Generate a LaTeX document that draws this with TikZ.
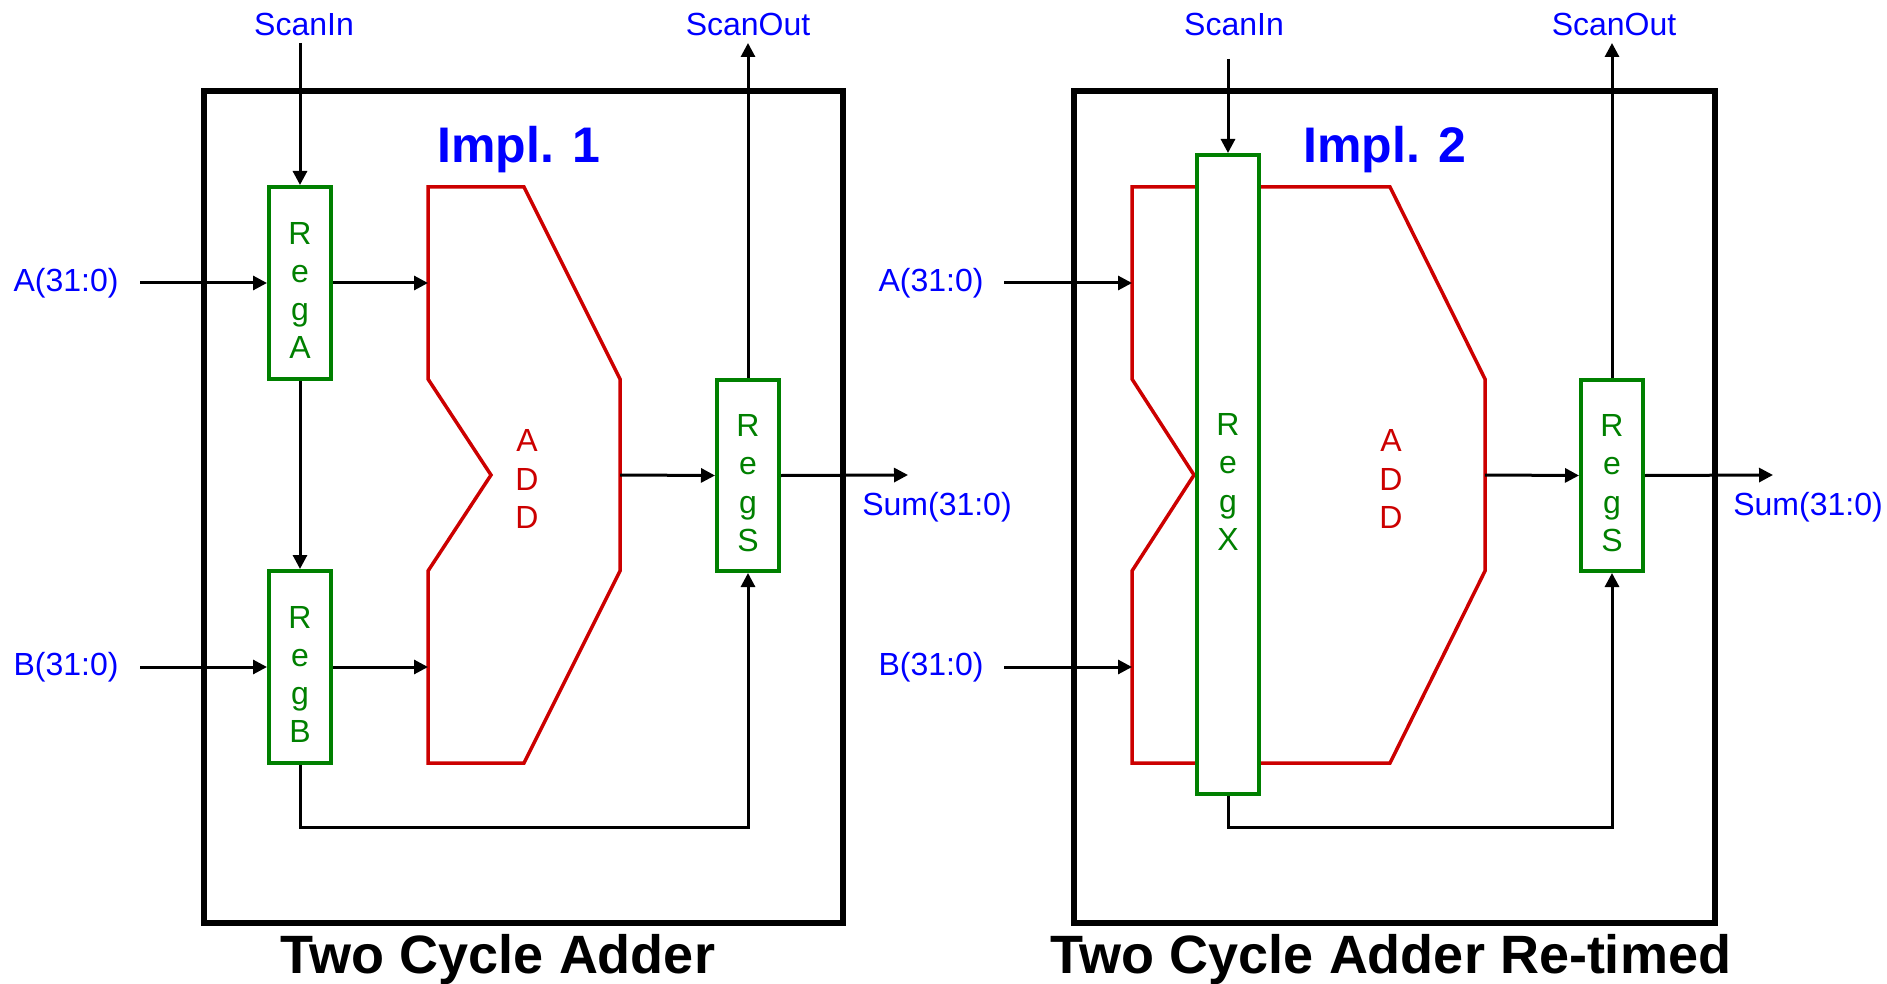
\documentclass[tikz,border=0pt]{standalone}
\usepackage{fontspec}
\setmainfont{Liberation Sans}
\usetikzlibrary{arrows.meta}
\definecolor{myblue}{RGB}{0,0,255}
\definecolor{mygreen}{RGB}{0,128,0}
\definecolor{myred}{RGB}{204,0,0}
\begin{document}
\begin{tikzpicture}[x=1pt,y=-1pt,
  reg/.style={rectangle, draw=mygreen, line width=4pt, fill=white, minimum width=62pt, inner sep=0pt},
  regtxt/.style={text=mygreen, font=\fontsize{32}{38.3}\selectfont, align=center, inner sep=0pt},
  addtxt/.style={text=myred, font=\fontsize{32}{38.3}\selectfont, align=center, inner sep=0pt},
  lbl/.style={text=myblue, font=\fontsize{32}{38}\selectfont, inner sep=0pt, anchor=base},
  ttl/.style={text=black, font=\fontsize{54}{62}\selectfont\bfseries, inner sep=0pt, anchor=base},
  impl/.style={text=myblue, font=\fontsize{50}{60}\selectfont\bfseries, inner sep=0pt, anchor=base},
  frame/.style={draw=black, line width=6pt},
  adder/.style={draw=myred, line width=3.5pt, line join=miter},
  conn/.style={draw=black, line width=3pt, -{Triangle[length=14pt,width=14pt]}},
]
\path[use as bounding box] (0,0) rectangle (1887,984);

% ================= Left: Two Cycle Adder =================
\draw[frame] (204,91) rectangle (843,923);
\node[impl] (impl1) at (519,163) {Impl. 1};
\node[ttl] (t1) at (498,973) {Two Cycle Adder};

% adder shape
\draw[adder] (428,187) -- (524,187) -- (620,379) -- (620,571) -- (524,763)
  -- (428,763) -- (428,571) -- (491,475) -- (428,379) -- cycle;
\coordinate (adLa) at (428,283);
\coordinate (adLb) at (428,667);
\coordinate (adLo) at (620,475);
\node[addtxt] (addL) at (527,479) {A\\D\\D};

% registers
\node[reg, minimum height=192pt] (rA) at (300,283) {};
\node[reg, minimum height=192pt] (rB) at (300,667) {};
\node[reg, minimum height=191pt] (rS) at (748,475.5) {};
\node[regtxt] (rAt) at (300,290.5) {R\\e\\g\\A};
\node[regtxt] (rBt) at (300,674.5) {R\\e\\g\\B};
\node[regtxt] (rSt) at (748,483) {R\\e\\g\\S};

% labels
\node[lbl] (sinLt) at (304,36) {ScanIn};
\node[lbl] (soLt) at (748,36) {ScanOut};
\node[lbl] (aLt) at (66,292) {A(31:0)};
\node[lbl] (bLt) at (66,675) {B(31:0)};
\node[lbl] (sumLt) at (937,515) {Sum(31:0)};

\coordinate (sinL) at (300,43);
\coordinate (soL) at (748,43);
\coordinate (aL) at (140,283);
\coordinate (bL) at (140,667);
\coordinate (sumL) at (908,475);
\coordinate (fbL) at (520,827);

% connectors
\draw[conn] (sinL) -- (rA.north);
\draw[conn] (rS.north) -- (soL);
\draw[conn] (aL) -- (rA.west);
\draw[conn] (rA.east) -- (adLa);
\draw[conn] (rA.south) -- (rB.north);
\draw[conn] (bL) -- (rB.west);
\draw[conn] (rB.east) -- (adLb);
\draw[conn] (adLo) -- (rS.west);
\draw[conn] (rS.east) -- (sumL);
\draw[conn] (rB.south) |- (fbL) -| (rS.south);

% ================= Right: Two Cycle Adder Re-timed =================
\draw[frame] (1073.5,91) rectangle (1714.5,923);
\node[impl] (impl2) at (1385,163) {Impl. 2};
\node[ttl] (t2) at (1391,973) {Two Cycle Adder Re-timed};

\draw[adder] (1132,187) -- (1390,187) -- (1485,379) -- (1485,571) -- (1390,763)
  -- (1132,763) -- (1132,571) -- (1194,475) -- (1132,379) -- cycle;
\coordinate (adRa) at (1132,283);
\coordinate (adRb) at (1132,667);
\coordinate (adRo) at (1485,475);
\node[addtxt] (addR) at (1391,479) {A\\D\\D};

\node[reg, minimum height=639pt] (rX) at (1228,474.5) {};
\node[reg, minimum height=191pt] (rS2) at (1612,475.5) {};
\node[regtxt] (rXt) at (1228,482) {R\\e\\g\\X};
\node[regtxt] (rS2t) at (1612,483) {R\\e\\g\\S};

\node[lbl] (sinRt) at (1234,36) {ScanIn};
\node[lbl] (soRt) at (1614,36) {ScanOut};
\node[lbl] (aRt) at (931,292) {A(31:0)};
\node[lbl] (bRt) at (931,675) {B(31:0)};
\node[lbl] (sumRt) at (1808,515) {Sum(31:0)};

\coordinate (sinR) at (1228,59);
\coordinate (soR) at (1612,43);
\coordinate (aR) at (1004,283);
\coordinate (bR) at (1004,667);
\coordinate (sumR) at (1773,475);
\coordinate (fbR) at (1420,827);

\draw[conn] (sinR) -- (rX.north);
\draw[conn] (rS2.north) -- (soR);
\draw[conn] (aR) -- (adRa);
\draw[conn] (bR) -- (adRb);
\draw[conn] (adRo) -- (rS2.west);
\draw[conn] (rS2.east) -- (sumR);
\draw[conn] (rX.south) |- (fbR) -| (rS2.south);
\end{tikzpicture}
\end{document}
